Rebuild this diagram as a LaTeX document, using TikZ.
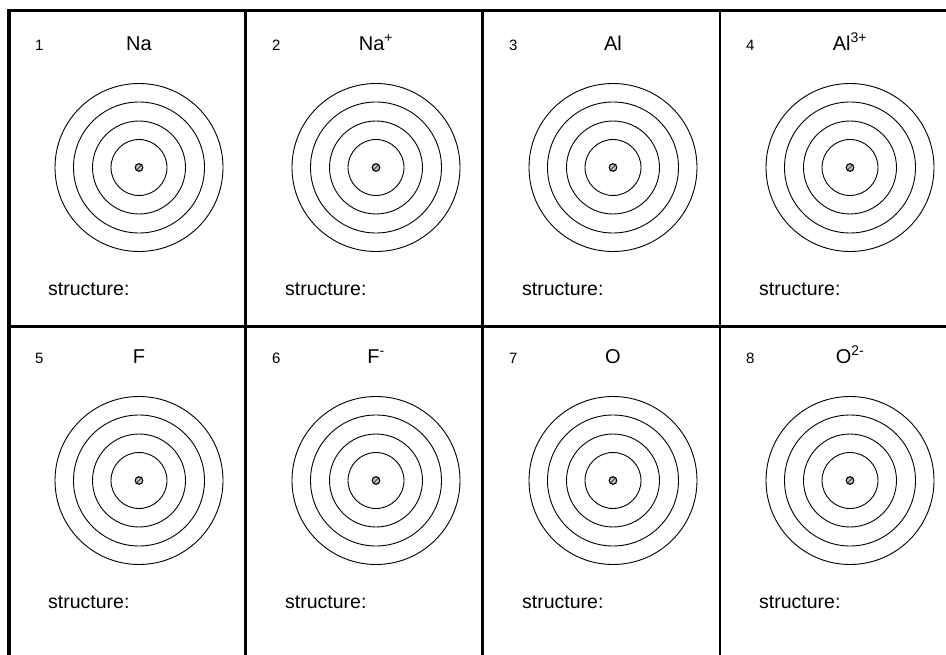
\documentclass[tikz,border=0pt]{standalone}
\usepackage{fontspec}
\setmainfont{Liberation Sans}
\usetikzlibrary{calc}
\begin{document}
\begin{tikzpicture}[x=1pt,y=-1pt,
  numlab/.style={anchor=base west,font=\fontsize{15}{15}\selectfont,inner sep=0pt},
  elemlab/.style={anchor=base,font=\fontsize{20}{20}\selectfont,inner sep=0pt},
  structlab/.style={anchor=base west,font=\fontsize{19.5}{19.5}\selectfont,inner sep=0pt},
  shell/.style={draw,line width=0.9pt},
  gridline/.style={line width=2.5pt}]
\useasboundingbox (0,0) rectangle (946,655);
% grid
\draw[line width=3pt] (7,10.5) -- (946,10.5);
\draw[line width=4pt] (9,9) -- (9,655);
\draw[gridline] (9,326.5) -- (946,326.5);
\foreach \xx in {245.5,482.5,720}{\draw[gridline] (\xx,10.5) -- (\xx,655);}
% cells
\foreach \i/\col/\row/\lab in {1/0/0/Na,2/1/0/Na\textsuperscript{+},3/2/0/Al,4/3/0/Al\textsuperscript{3+},
   5/0/1/F,6/1/1/F\textsuperscript{-},7/2/1/O,8/3/1/O\textsuperscript{2-}}{
  \pgfmathsetmacro{\L}{9+237*\col}
  \pgfmathsetmacro{\T}{10.5+313*\row}
  \coordinate (c\i) at (\L+130,\T+157);
  \node[numlab] (n\i) at (\L+26,\T+40) {\i};
  \node[elemlab] (e\i) at (\L+130,\T+40) {\lab};
  \foreach \r in {84,65.5,46.5,28}{\draw[shell] (c\i) circle (\r);}
  \draw[line width=1.1pt,fill=black!25] (c\i) circle (3.8);
  \draw[line width=0.6pt] ($(c\i)+(-2.2,2.2)$) -- ($(c\i)+(2.2,-2.2)$);
  \node[structlab] (s\i) at (\L+39,\T+285) {structure:};
}
\end{tikzpicture}
\end{document}
